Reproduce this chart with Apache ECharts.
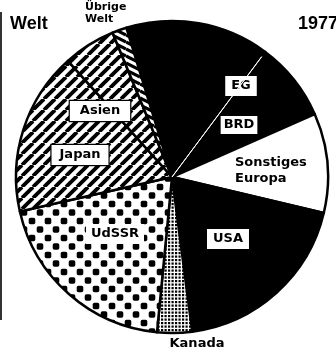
<!DOCTYPE html>
<html>
<head>
<meta charset="utf-8">
<script src="https://cdn.jsdelivr.net/npm/echarts@6/dist/echarts.min.js"></script>
<style>
  html, body { margin: 0; padding: 0; background: #fff; }
  #chart { width: 336px; height: 356px; }
</style>
</head>
<body>
<div id="chart"></div>
<script>
// Anteile 1977 in Prozent, im Uhrzeigersinn ab oben
const categories = ['EG', 'BRD', 'Sonstiges Europa', 'USA', 'Kanada', 'UdSSR', 'Japan', 'Asien', 'Übrige Welt'];
const shares = [14.9, 8.2, 10.3, 19.2, 3.6, 19.9, 16.9, 5.4, 1.5];
const labelTexts = ['EG', 'BRD', 'Sonstiges\nEuropa', 'USA', 'Kanada', 'UdSSR', 'Japan', 'Asien', 'Übrige\nWelt'];
const titleText = 'Welt';
const yearText = '1977';

// label anchor points [x, y, align]
const labelSpots = [
  [241, 86, 'center'],
  [239, 125, 'center'],
  [235, 171, 'left'],
  [228, 239, 'center'],
  [197, 344, 'center'],
  [115, 234, 'center'],
  [80, 155, 'center'],
  [100, 111, 'center'],
  [85, 13, 'left']
];

// build a repeating fill from a small canvas tile
function tile(w, h, draw) {
  const c = document.createElement('canvas');
  c.width = w; c.height = h;
  const g = c.getContext('2d');
  g.fillStyle = '#fff';
  g.fillRect(0, 0, w, h);
  g.fillStyle = '#000';
  g.strokeStyle = '#000';
  draw(g, w, h);
  return { image: c, repeat: 'repeat' };
}

const solid = '#000';
const blank = '#fff';

// "/" hatching for Asia
const hatchAsia = tile(11, 11, (g, w, h) => {
  g.lineWidth = 3.8;
  for (let k = -1; k <= 1; k++) {
    g.beginPath(); g.moveTo(k * w, h); g.lineTo(k * w + w, 0); g.stroke();
  }
});

// shallow "\" stripes for the rest of the world
const hatchRest = tile(14, 7, (g, w, h) => {
  g.lineWidth = 3.2;
  for (let k = -1; k <= 1; k++) {
    g.beginPath(); g.moveTo(0, k * h); g.lineTo(w, k * h + h); g.stroke();
  }
});

// rounded square dots in a staggered grid for the USSR
function roundDot(g, cx, cy, s, r) {
  const x = cx - s / 2, y = cy - s / 2;
  g.beginPath();
  g.moveTo(x + r, y);
  g.arcTo(x + s, y, x + s, y + s, r);
  g.arcTo(x + s, y + s, x, y + s, r);
  g.arcTo(x, y + s, x, y, r);
  g.arcTo(x, y, x + s, y, r);
  g.closePath();
  g.fill();
}
const dotsLarge = tile(16, 17, (g, w, h) => {
  [[0, 0], [w, 0], [0, h], [w, h], [w / 2, h / 2]].forEach(([x, y]) => roundDot(g, x, y, 6.6, 1.8));
});

// fine dot screen for Canada
const dotsFine = tile(7, 7, (g) => {
  [[0, 0], [3.5, 0], [0, 3.5], [3.5, 3.5]].forEach(([x, y]) => g.fillRect(x, y, 2.2, 2.2));
});

const fills = [solid, solid, blank, solid, dotsFine, dotsLarge, hatchAsia, hatchAsia, hatchRest];

const boxed = {
  backgroundColor: '#fff', borderColor: '#000', borderWidth: 1.2, padding: [3, 6, 2, 6]
};
const labelStyles = [
  boxed,
  Object.assign({}, boxed, { padding: [2, 3, 1, 3] }),
  { lineHeight: 16 },
  Object.assign({}, boxed, { padding: [3, 6, 2, 6] }),
  {},
  { backgroundColor: '#fff', padding: [3, 5, 2, 5] },
  Object.assign({}, boxed, { padding: [3, 8, 2, 8] }),
  Object.assign({}, boxed, { padding: [3, 10, 2, 10] }),
  { fontSize: 11, lineHeight: 12 }
];

const CENTER = [172, 177];
const RADIUS = 156;
const START = 107;

const pieData = categories.map((name, i) => ({
  name: name,
  value: shares[i],
  itemStyle: { color: fills[i] },
  label: Object.assign({ formatter: labelTexts[i] }, labelStyles[i])
}));

// thin white divider between EG and BRD: a hairline slice on an overlay ring
const total = shares.reduce((a, b) => a + b, 0);
const dividerData = [
  { value: shares[0], itemStyle: { color: 'rgba(0,0,0,0)', borderWidth: 0 } },
  { value: 0.01, itemStyle: { color: 'rgba(0,0,0,0)', borderColor: '#fff', borderWidth: 1, borderJoin: 'round' } },
  { value: total - shares[0], itemStyle: { color: 'rgba(0,0,0,0)', borderWidth: 0 } }
];

const chart = echarts.init(document.getElementById('chart'), null, { renderer: 'canvas' });
chart.setOption({
  animation: false,
  backgroundColor: '#fff',
  graphic: [
    { type: 'line', shape: { x1: 1, y1: 12, x2: 1, y2: 320 }, style: { stroke: '#333', lineWidth: 2 } },
    { type: 'text', x: 10, y: 24, style: { text: titleText, font: 'bold 18px "Liberation Sans"', fill: '#000', verticalAlign: 'middle' } },
    { type: 'text', x: 298, y: 24, style: { text: yearText, font: 'bold 18px "Liberation Sans"', fill: '#000', verticalAlign: 'middle' } }
  ],
  series: [
    {
      type: 'pie',
      center: CENTER,
      radius: RADIUS,
      startAngle: START,
      clockwise: true,
      avoidLabelOverlap: false,
      itemStyle: { borderColor: '#000', borderWidth: 2.5 },
      emphasis: { disabled: true },
      label: {
        show: true,
        position: 'inside',
        color: '#000',
        fontFamily: 'DejaVu Sans',
        fontWeight: 'bold',
        fontSize: 13,
        lineHeight: 15
      },
      labelLine: { show: false },
      labelLayout: function (params) {
        const s = labelSpots[params.dataIndex];
        return { x: s[0], y: s[1], align: s[2], verticalAlign: 'middle' };
      },
      data: pieData
    },
    {
      type: 'pie',
      center: CENTER,
      radius: RADIUS - 6,
      startAngle: START,
      clockwise: true,
      silent: true,
      z: 3,
      label: { show: false },
      labelLine: { show: false },
      emphasis: { disabled: true },
      data: dividerData
    }
  ]
});
</script>
</body>
</html>
